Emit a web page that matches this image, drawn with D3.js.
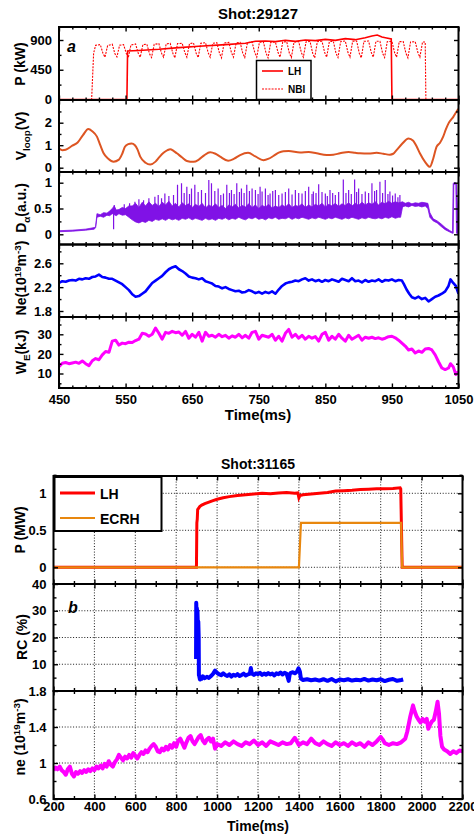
<!DOCTYPE html>
<html>
<head>
<meta charset="utf-8">
<script src="https://cdn.jsdelivr.net/npm/d3@7"></script>
<style>
  body { margin: 0; background: #fff; }
  svg { display: block; font-family: "Liberation Sans", Arial, sans-serif; font-weight: bold; }
</style>
</head>
<body>
<svg id="chart" width="474" height="837"></svg>
<script>
// ---------- shot 29127 (top figure), time in ms ----------
const lhTop = [[450,0],[552,0],[553,735],[570,742],[600,760],[630,785],[660,805],[700,830],[730,850],[745,880],
  [760,885],[775,875],[790,895],[805,880],[820,900],[835,890],[850,910],[865,895],[880,920],[895,905],
  [910,935],[920,960],[928,975],[935,945],[942,930],[949,915],[950,0],[1050,0]];

const nbi = [[450,0],[499,0],[502,700],[505,820],
  [512,830],[516,700],[519,640],[523,815],[530,835],[534,690],[537,645],[541,820],
  [547,830],[551,700],[554,630],[558,825],[565,840],[569,700],[572,640],[576,830],
  [582,835],[586,690],[589,635],[593,835],[600,845],[604,700],[607,640],[611,840],
  [617,850],[621,700],[624,630],[628,845],[635,850],[639,710],[642,640],[646,845],
  [652,855],[656,700],[659,635],[663,850],[670,860],[674,710],[677,640],[681,850],
  [687,860],[691,700],[694,630],[698,855],[705,865],[709,710],[712,640],[716,855],
  [722,865],[726,700],[729,635],[733,860],[740,870],[744,710],[747,640],[751,865],
  [757,870],[761,700],[764,630],[768,865],[775,870],[779,710],[782,640],[786,870],
  [792,875],[796,700],[799,635],[803,870],[810,875],[814,710],[817,640],[821,870],
  [827,880],[831,700],[834,630],[838,875],[845,880],[849,710],[852,640],[856,875],
  [862,880],[866,700],[869,635],[873,875],[880,885],[884,710],[887,640],[891,880],
  [897,885],[901,700],[904,630],[908,880],[915,885],[919,710],[922,640],[926,880],
  [932,880],[936,700],[939,635],[943,875],[950,880],[954,710],[957,640],[961,875],
  [967,875],[971,700],[974,630],[978,870],[985,875],[989,710],[992,640],[996,870],
  [1000,870],[1001,0],[1050,0]];

const vloop = [[450,0.86],[455,0.78],[460,0.80],[470,0.98],[478,1.12],[486,1.45],[494,1.72],[500,1.62],
  [507,1.38],[512,1.0],[517,0.64],[524,0.40],[532,0.27],[540,0.36],[545,0.62],[549,0.93],[554,1.05],
  [559,1.08],[564,1.0],[568,0.80],[572,0.49],[580,0.22],[587,0.14],[595,0.27],[601,0.48],[607,0.66],
  [613,0.78],[617,0.82],[622,0.75],[627,0.64],[635,0.45],[642,0.30],[652,0.26],[660,0.36],[668,0.55],
  [677,0.69],[685,0.62],[692,0.49],[704,0.31],[713,0.40],[722,0.56],[734,0.66],[745,0.50],[757,0.33],
  [765,0.40],[772,0.52],[780,0.67],[787,0.73],[795,0.74],[812,0.68],[825,0.70],[837,0.64],[852,0.57],
  [862,0.58],[872,0.64],[885,0.70],[895,0.66],[902,0.64],[915,0.63],[927,0.66],[937,0.62],[947,0.58],
  [952,0.62],[957,0.78],[965,1.05],[975,1.30],[982,1.20],[987,0.95],[992,0.64],[1000,0.25],[1007,0.04],
  [1012,0.40],[1017,0.93],[1022,1.10],[1027,1.38],[1031,1.70],[1035,1.97],[1042,2.25],[1048,2.54],[1050,2.62]];

// D-alpha: dense band (low/high envelope) plus individual spikes
const daT = [450,470,490,503,505,507,512,517,522,526,530,533,536,540,545,550,555,
  560,565,570,575,580,585,590,595,600,605,610,615,620,625,630,635,640,645,650,655,
  660,665,670,675,680,685,690,695,700,705,710,715,720,725,730,735,740,745,750,755,
  760,765,770,775,780,785,790,795,800,805,810,815,820,825,830,835,840,845,850,855,
  860,865,870,875,880,885,890,895,900,905,910,915,920,925,930,935,940,945,950,955,960,
  963,966,970,975,980,985,990,995,1000,1004,1007,1012,1018,1024,1030,1036,1041,1042,1043,1046,1047,1050];
const daLow = [0.05,0.06,0.08,0.10,0.13,0.33,0.35,0.33,0.37,0.36,0.40,0.38,0.36,0.40,0.37,0.38,0.33,
  0.28,0.24,0.22,0.25,0.23,0.27,0.25,0.29,0.27,0.30,0.27,0.31,0.28,0.30,0.27,0.31,0.29,0.32,0.28,0.31,
  0.29,0.27,0.31,0.28,0.30,0.27,0.31,0.29,0.32,0.28,0.31,0.29,0.33,0.30,0.28,0.32,0.30,0.33,0.29,0.31,
  0.28,0.32,0.30,0.33,0.29,0.31,0.30,0.33,0.29,0.32,0.30,0.33,0.31,0.29,0.32,0.30,0.33,0.31,0.29,0.32,
  0.30,0.33,0.31,0.29,0.32,0.30,0.33,0.31,0.29,0.32,0.30,0.33,0.31,0.30,0.32,0.30,0.33,0.31,0.34,0.31,0.33,
  0.33,0.53,0.55,0.53,0.56,0.54,0.55,0.53,0.55,0.50,0.33,0.26,0.22,0.15,0.09,0.05,0.02,0.02,0.97,0.97,0.02,0.00];
const daHigh = [0.07,0.08,0.10,0.13,0.15,0.40,0.38,0.42,0.41,0.45,0.50,0.55,0.47,0.48,0.52,0.50,0.55,
  0.55,0.60,0.52,0.62,0.55,0.63,0.56,0.60,0.54,0.62,0.57,0.64,0.55,0.60,0.53,0.61,0.56,0.59,0.52,0.58,
  0.54,0.60,0.51,0.57,0.53,0.59,0.52,0.56,0.50,0.57,0.53,0.58,0.51,0.56,0.53,0.59,0.52,0.57,0.50,0.56,
  0.53,0.58,0.51,0.55,0.52,0.57,0.53,0.59,0.52,0.56,0.54,0.59,0.52,0.57,0.53,0.58,0.55,0.60,0.53,0.58,
  0.55,0.60,0.54,0.59,0.56,0.61,0.55,0.60,0.56,0.62,0.57,0.61,0.58,0.63,0.57,0.62,0.59,0.64,0.60,0.63,0.61,
  0.62,0.63,0.60,0.62,0.59,0.61,0.60,0.62,0.61,0.60,0.42,0.30,0.26,0.20,0.13,0.08,0.04,0.98,1.00,1.00,0.98,0.03];
const daSpikes = [[532,0.10],[533,0.57],[548,0.58],[556,0.60],[564,0.63],[570,0.68],[577,0.66],[585,0.70],
  [594,0.73],[599,0.76],[604,0.70],[609,0.79],[615,0.74],[622,0.76],[628,0.96],[634,0.99],[638,0.80],
  [642,0.92],[646,0.78],[649,0.89],[654,0.96],[659,0.82],[664,0.86],[670,0.80],[675,1.05],[679,0.99],
  [684,0.84],[689,0.89],[693,0.76],[697,0.79],[702,0.96],[706,0.80],[709,0.86],[713,0.78],[717,0.99],
  [721,0.82],[724,0.89],[728,0.80],[732,0.96],[736,0.84],[740,0.89],[745,0.86],[749,0.78],[752,0.92],
  [755,0.83],[760,0.89],[764,0.76],[767,0.79],[771,0.84],[775,0.86],[780,0.76],[785,0.79],[790,0.82],
  [795,0.89],[800,0.77],[805,0.86],[810,0.80],[815,0.79],[820,0.84],[825,0.92],[830,0.78],[832,0.83],
  [836,0.80],[840,0.97],[845,0.82],[850,0.79],[853,0.74],[857,0.86],[861,0.80],[865,0.76],[870,0.82],
  [877,1.06],[881,0.80],[885,0.86],[889,0.78],[894,1.06],[897,0.82],[900,0.89],[905,0.78],[910,0.83],
  [915,0.80],[920,0.99],[924,0.84],[927,0.86],[932,1.02],[936,0.80],[940,1.05],[944,0.78],[947,0.83],
  [951,0.75],[955,0.79],[959,0.72],[962,0.76]];

const neTop = [[450,2.27],[455,2.30],[460,2.29],[465,2.31],[470,2.32],[475,2.31],[480,2.34],[485,2.33],
  [490,2.35],[495,2.34],[500,2.37],[505,2.38],[510,2.41],[515,2.37],[520,2.36],[525,2.34],[530,2.34],
  [535,2.31],[540,2.28],[545,2.25],[550,2.20],[555,2.15],[560,2.08],[565,2.04],[570,2.05],[575,2.09],
  [580,2.13],[585,2.20],[590,2.27],[595,2.31],[600,2.35],[605,2.39],[610,2.45],[615,2.50],[620,2.53],
  [625,2.55],[630,2.50],[635,2.47],[640,2.43],[645,2.38],[650,2.36],[655,2.35],[660,2.33],[665,2.35],
  [670,2.30],[675,2.28],[680,2.26],[685,2.22],[690,2.21],[695,2.18],[700,2.20],[705,2.17],[710,2.15],
  [715,2.13],[720,2.14],[725,2.11],[730,2.12],[735,2.15],[740,2.13],[745,2.10],[750,2.12],[755,2.09],
  [760,2.12],[765,2.10],[770,2.13],[775,2.09],[780,2.16],[785,2.22],[790,2.26],[795,2.28],[800,2.29],
  [805,2.31],[810,2.30],[815,2.33],[820,2.35],[825,2.31],[830,2.33],[835,2.30],[840,2.32],[845,2.29],
  [850,2.32],[855,2.30],[860,2.33],[865,2.31],[870,2.29],[875,2.34],[880,2.32],[885,2.30],[890,2.35],
  [895,2.30],[900,2.31],[905,2.28],[910,2.32],[915,2.29],[920,2.31],[925,2.30],[930,2.33],[935,2.29],
  [940,2.32],[945,2.31],[950,2.33],[955,2.30],[960,2.32],[965,2.31],[968,2.25],[972,2.16],[976,2.09],
  [980,2.03],[985,2.01],[990,2.04],[995,2.00],[1000,2.02],[1005,1.96],[1010,2.00],[1015,2.04],[1020,2.06],
  [1025,2.09],[1030,2.13],[1035,2.22],[1038,2.33],[1042,2.27],[1046,2.22],[1050,2.09]];

const we = [[450,13.5],[455,15.2],[460,15.6],[465,15.0],[470,15.4],[475,15.8],[480,15.2],[485,16.4],
  [490,15.0],[495,14.0],[500,16.5],[505,17.6],[510,17.0],[515,19.5],[520,21.2],[525,20.8],[530,26.5],
  [535,27.0],[540,24.5],[545,25.5],[550,25.2],[555,26.0],[560,25.8],[565,26.8],[570,27.5],[575,30.5],
  [580,30.2],[585,29.0],[590,30.0],[595,33.2],[600,30.5],[605,27.5],[610,31.0],[615,30.5],[620,31.5],
  [625,30.8],[630,31.2],[635,29.5],[640,31.5],[645,28.0],[650,30.0],[655,28.5],[660,31.0],[665,26.5],
  [670,31.0],[675,29.0],[680,29.5],[685,28.5],[690,30.0],[695,28.8],[700,29.5],[705,28.0],[710,29.2],
  [715,28.5],[720,30.0],[725,28.2],[730,29.5],[735,28.0],[740,31.0],[745,31.5],[750,27.5],[755,29.5],
  [760,29.0],[765,28.5],[770,30.0],[775,27.0],[780,29.0],[785,26.5],[790,30.5],[795,32.5],[800,28.5],
  [805,30.0],[810,28.0],[815,29.5],[820,27.5],[825,29.0],[830,28.0],[835,28.8],[840,26.5],[845,30.0],
  [850,31.0],[855,27.0],[860,29.0],[865,27.5],[870,30.0],[875,28.0],[880,26.5],[885,29.5],[890,27.5],
  [895,28.5],[900,29.5],[905,27.0],[910,28.5],[915,28.0],[920,28.5],[925,27.8],[930,28.2],[935,27.5],
  [940,28.0],[945,28.8],[950,29.0],[955,28.2],[960,27.0],[965,25.5],[970,24.0],[975,22.0],[980,22.5],
  [985,20.5],[990,21.5],[995,20.8],[1000,22.5],[1005,22.8],[1010,22.0],[1015,19.5],[1020,16.0],[1025,12.8],
  [1030,12.0],[1035,12.8],[1038,15.0],[1042,13.5],[1046,9.5],[1050,11.0]];

// ---------- shot 31165 (bottom figure) ----------
const lhBot = [[200,0],[899,0],[900,0.3],[901,0.6],[903,0.65],[905,0.78],[910,0.80],[915,0.82],[925,0.84],
  [940,0.86],[960,0.88],[980,0.90],[1000,0.92],[1030,0.94],[1060,0.955],[1100,0.97],[1140,0.98],[1180,0.99],
  [1220,1.0],[1260,0.995],[1300,1.005],[1340,1.01],[1380,1.0],[1395,1.005],[1400,0.94],[1405,0.97],
  [1420,0.98],[1460,0.99],[1500,1.0],[1540,1.01],[1580,1.03],[1620,1.035],[1660,1.04],[1700,1.05],
  [1740,1.055],[1780,1.06],[1820,1.06],[1860,1.065],[1895,1.075],[1898,1.06],[1905,0],[2200,0]];
const ecrh = [[200,0],[1400,0],[1410,0.6],[1900,0.6],[1905,0],[2200,0]];

const rc = [[897,12],[898,33],[899,30],[900,13],[901,31],[902,28],[903,14],[904,30],[906,24],[908,26],
  [910,20],[911,6],[913,5.5],[916,4.3],[920,5.2],[925,4.6],[930,5.5],[940,4.8],[950,5.3],[960,4.9],
  [970,5.6],[980,6.4],[990,7.6],[1000,6.8],[1010,6.2],[1020,5.9],[1030,6.6],[1040,6.0],[1050,5.6],
  [1060,6.2],[1070,5.4],[1080,6.1],[1090,5.7],[1100,6.3],[1110,5.6],[1120,6.0],[1130,6.5],[1140,5.8],
  [1150,6.2],[1160,6.4],[1165,8.6],[1170,6.5],[1180,6.0],[1190,6.6],[1200,6.3],[1210,6.8],[1220,6.0],
  [1230,6.5],[1240,6.1],[1250,6.7],[1260,6.2],[1270,6.5],[1280,5.8],[1290,6.6],[1300,6.3],[1310,6.9],
  [1320,6.2],[1330,6.8],[1340,6.4],[1345,5.2],[1350,3.8],[1355,6.2],[1360,6.8],[1370,7.0],[1380,6.6],
  [1390,7.2],[1398,8.5],[1402,7.8],[1405,7.2],[1410,4.6],[1420,4.1],[1440,4.4],[1460,4.0],[1480,4.3],
  [1500,3.9],[1520,4.4],[1540,3.8],[1560,4.5],[1580,3.6],[1600,4.3],[1620,4.0],[1640,4.4],[1660,3.9],
  [1680,4.2],[1700,4.0],[1720,4.5],[1740,3.9],[1760,4.3],[1780,4.0],[1800,4.4],[1820,3.7],[1840,4.2],
  [1860,4.5],[1880,3.8],[1900,4.1],[1910,4.3]];

const neBot = [[200,0.92],[210,0.95],[220,0.93],[230,0.96],[240,0.92],[250,0.90],[260,0.87],[270,0.93],
  [280,0.96],[290,0.88],[300,0.85],[310,0.90],[320,0.88],[330,0.91],[340,0.89],[350,0.92],[360,0.90],
  [370,0.93],[380,0.91],[390,0.94],[400,0.92],[410,0.96],[420,0.94],[430,0.97],[440,0.94],[450,0.99],
  [460,0.96],[470,1.02],[480,0.98],[490,0.96],[500,1.01],[510,1.04],[520,1.09],[530,1.06],[540,1.03],
  [550,1.07],[560,1.05],[570,1.09],[580,1.06],[590,1.11],[600,1.08],[610,1.05],[620,1.09],[630,1.12],
  [640,1.10],[650,1.14],[660,1.12],[670,1.16],[680,1.19],[690,1.21],[700,1.18],[710,1.13],[720,1.12],
  [730,1.16],[740,1.14],[750,1.18],[760,1.15],[770,1.20],[780,1.17],[790,1.22],[800,1.18],[810,1.25],
  [820,1.27],[830,1.22],[840,1.17],[850,1.23],[860,1.28],[870,1.30],[880,1.24],[890,1.21],[900,1.25],
  [910,1.29],[920,1.31],[930,1.25],[940,1.22],[950,1.26],[960,1.28],[970,1.24],[980,1.27],[990,1.16],
  [1000,1.21],[1020,1.19],[1040,1.23],[1060,1.20],[1080,1.24],[1100,1.21],[1120,1.19],[1140,1.23],
  [1160,1.21],[1180,1.25],[1200,1.20],[1220,1.23],[1240,1.19],[1260,1.24],[1280,1.22],[1300,1.20],
  [1320,1.23],[1340,1.21],[1360,1.22],[1380,1.28],[1400,1.20],[1420,1.23],[1440,1.21],[1460,1.27],
  [1480,1.22],[1500,1.20],[1520,1.24],[1540,1.21],[1560,1.19],[1580,1.23],[1600,1.20],[1620,1.22],
  [1640,1.19],[1660,1.23],[1680,1.20],[1700,1.22],[1720,1.18],[1740,1.23],[1760,1.20],[1780,1.24],
  [1800,1.29],[1810,1.26],[1820,1.22],[1840,1.20],[1860,1.22],[1880,1.21],[1900,1.23],[1920,1.27],
  [1930,1.35],[1945,1.52],[1958,1.64],[1965,1.58],[1975,1.52],[1985,1.48],[1995,1.45],[2005,1.49],
  [2015,1.46],[2025,1.49],[2033,1.38],[2040,1.42],[2050,1.46],[2060,1.48],[2070,1.58],[2078,1.68],
  [2085,1.55],[2092,1.30],[2100,1.18],[2110,1.15],[2125,1.13],[2140,1.10],[2155,1.13],[2170,1.11],
  [2185,1.14],[2200,1.13]];

// ---------- drawing ----------
const svg = d3.select('#chart');
svg.append('rect').attr('width', 474).attr('height', 837).attr('fill', '#fff');

const lineGen = (x, y) => d3.line().x(d => x(d[0])).y(d => y(d[1]));

function tickAxis(g, axisFn, scale, values, size, tr, fmt, pad, fs) {
  const a = g.append('g').attr('transform', tr)
    .call(axisFn(scale).tickValues(values).tickSizeInner(size).tickSizeOuter(0)
      .tickPadding(pad || 3).tickFormat(fmt || (() => '')));
  a.select('.domain').remove();
  a.attr('font-family', null).attr('font-size', fs || 13);
  a.selectAll('line').attr('stroke-width', 1.4);
  return a;
}

function drawPanel(fig, p) {
  const x = fig.x, [x0, x1] = x.range();
  const y = d3.scaleLinear().domain(p.dom).range(p.rng);
  const g = svg.append('g');
  if (fig.gridX) {
    g.selectAll(null).data(fig.gridX).enter().append('line')
      .attr('x1', d => x(d)).attr('x2', d => x(d)).attr('y1', p.top).attr('y2', p.bottom)
      .attr('stroke', '#000').attr('stroke-width', 0.9).attr('stroke-dasharray', '1,1.8');
  }
  if (p.gridY) {
    g.selectAll(null).data(p.gridY).enter().append('line')
      .attr('x1', x0).attr('x2', x1).attr('y1', d => y(d)).attr('y2', d => y(d))
      .attr('stroke', '#000').attr('stroke-width', 0.9).attr('stroke-dasharray', '1,1.8');
  }
  const clipId = 'clip-' + p.name;
  svg.append('clipPath').attr('id', clipId).append('rect')
    .attr('x', x0).attr('y', p.top).attr('width', x1 - x0).attr('height', p.bottom - p.top);
  const plot = g.append('g').attr('clip-path', `url(#${clipId})`);
  p.draw(plot, x, y);

  // inward ticks on all four sides
  tickAxis(g, d3.axisBottom, x, fig.xMajor, -fig.tick, `translate(0,${p.bottom})`,
    p.xLabels ? (d => String(d)) : null, fig.xPad, fig.xFont);
  tickAxis(g, d3.axisBottom, x, fig.xMinor, -fig.minor, `translate(0,${p.bottom})`);
  tickAxis(g, d3.axisTop, x, fig.xMajor, -fig.tick, `translate(0,${p.top})`);
  tickAxis(g, d3.axisTop, x, fig.xMinor, -fig.minor, `translate(0,${p.top})`);
  tickAxis(g, d3.axisLeft, y, p.yTicks, -fig.tick, `translate(${x0},0)`, d => String(d), 7, fig.yFont);
  tickAxis(g, d3.axisRight, y, p.yTicks, -fig.tick, `translate(${x1},0)`);
  if (p.yMinor) {
    tickAxis(g, d3.axisLeft, y, p.yMinor, -fig.minor, `translate(${x0},0)`);
    tickAxis(g, d3.axisRight, y, p.yMinor, -fig.minor, `translate(${x1},0)`);
  }
  g.append('rect').attr('x', x0).attr('y', p.top).attr('width', x1 - x0).attr('height', p.bottom - p.top)
    .attr('fill', 'none').attr('stroke', '#000').attr('stroke-width', 2);
  return { g, x, y };
}

function yTitle(x, cy, parts, fs) {
  const t = svg.append('text').attr('transform', `translate(${x},${cy}) rotate(-90)`)
    .attr('text-anchor', 'middle').attr('font-size', fs);
  let prev = 0;
  parts.forEach(([s, shift]) => {
    t.append('tspan').text(s).attr('dy', shift - prev)
      .attr('font-size', shift === 0 ? fs : fs * 0.7);
    prev = shift;
  });
}

// ----- top figure -----
const xTop = d3.scaleLinear().domain([450, 1050]).range([59, 458.5]);
const figTop = {
  x: xTop, tick: 4.5, minor: 2.5, xPad: 7, xFont: 13, yFont: 13,
  xMajor: d3.range(450, 1051, 100),
  xMinor: d3.range(450, 1051, 20).filter(d => (d - 450) % 100 !== 0)
};

drawPanel(figTop, {
  name: 'p1', top: 27, bottom: 100, dom: [0, 900], rng: [99.5, 40],
  yTicks: [0, 450, 900], yMinor: [225, 675],
  draw: (g, x, y) => {
    g.append('path').datum(nbi).attr('d', lineGen(x, y)).attr('fill', 'none')
      .attr('stroke', '#ff0000').attr('stroke-width', 1.1).attr('stroke-dasharray', '2,1.2');
    g.append('path').datum(lhTop).attr('d', lineGen(x, y)).attr('fill', 'none')
      .attr('stroke', '#ff0000').attr('stroke-width', 1.6);
  }
});
drawPanel(figTop, {
  name: 'p2', top: 100, bottom: 172, dom: [0, 2], rng: [167.7, 122.7],
  yTicks: [0, 1, 2], yMinor: [0.5, 1.5, 2.5],
  draw: (g, x, y) => {
    g.append('path').datum(vloop).attr('d', lineGen(x, y).curve(d3.curveMonotoneX)).attr('fill', 'none')
      .attr('stroke', '#dd5522').attr('stroke-width', 2);
  }
});
drawPanel(figTop, {
  name: 'p3', top: 172, bottom: 244.5, dom: [0, 1], rng: [234.3, 182.7],
  yTicks: [0, 0.5, 1], yMinor: [0.25, 0.75],
  draw: (g, x, y) => {
    const band = daT.map((t, i) => [t, daLow[i], daHigh[i]]);
    g.append('path').datum(band)
      .attr('d', d3.area().x(d => x(d[0])).y0(d => y(d[1])).y1(d => y(d[2])))
      .attr('fill', '#8012e6').attr('stroke', '#8012e6').attr('stroke-width', 0.8);
    g.selectAll(null).data(daSpikes).enter().append('line')
      .attr('x1', d => x(d[0])).attr('x2', d => x(d[0]))
      .attr('y1', y(0.45)).attr('y2', d => y(d[1]))
      .attr('stroke', '#8012e6').attr('stroke-width', 1.2);
  }
});
drawPanel(figTop, {
  name: 'p4', top: 244.5, bottom: 317, dom: [1.8, 2.6], rng: [311, 263.3],
  yTicks: [1.8, 2.2, 2.6], yMinor: [2.0, 2.4, 2.8],
  draw: (g, x, y) => {
    g.append('path').datum(neTop).attr('d', lineGen(x, y)).attr('fill', 'none')
      .attr('stroke', '#0000ff').attr('stroke-width', 2.6).attr('stroke-linejoin', 'round');
  }
});
drawPanel(figTop, {
  name: 'p5', top: 317, bottom: 388, dom: [10, 30], rng: [373.5, 334.3], xLabels: true,
  yTicks: [10, 20, 30], yMinor: [5, 15, 25, 35],
  draw: (g, x, y) => {
    g.append('path').datum(we).attr('d', lineGen(x, y)).attr('fill', 'none')
      .attr('stroke', '#ff00ff').attr('stroke-width', 3).attr('stroke-linejoin', 'round');
  }
});

svg.append('text').attr('x', 258).attr('y', 19).attr('text-anchor', 'middle')
  .attr('font-size', 15).text('Shot:29127');
svg.append('text').attr('x', 258).attr('y', 420).attr('text-anchor', 'middle')
  .attr('font-size', 15).text('Time(ms)');
svg.append('text').attr('x', 67).attr('y', 52).attr('font-size', 16).attr('font-style', 'italic').text('a');

yTitle(25, 64, [['P (kW)', 0]], 14);
yTitle(26, 136, [['V', 0], ['loop', 4], ['(V)', 0]], 14);
yTitle(26, 208, [['D', 0], ['α', 4], ['(a.u.)', 0]], 14);
yTitle(26, 278, [['Ne(10', 0], ['19', -5], ['m', 0], ['-3', -5], [')', 0]], 14);
yTitle(26, 352, [['W', 0], ['E', 4], ['(kJ)', 0]], 14);

// top legend
const legTop = svg.append('g');
legTop.append('rect').attr('x', 256.5).attr('y', 60.5).attr('width', 54.5).attr('height', 39)
  .attr('fill', '#fff').attr('stroke', '#000').attr('stroke-width', 1.5);
legTop.append('line').attr('x1', 262).attr('x2', 283).attr('y1', 71).attr('y2', 71)
  .attr('stroke', '#ff0000').attr('stroke-width', 1.6);
legTop.append('line').attr('x1', 262).attr('x2', 283).attr('y1', 89).attr('y2', 89)
  .attr('stroke', '#ff0000').attr('stroke-width', 1.1).attr('stroke-dasharray', '2,1.2');
legTop.append('text').attr('x', 288).attr('y', 75).attr('font-size', 10).text('LH');
legTop.append('text').attr('x', 288).attr('y', 93).attr('font-size', 10).text('NBI');

// ----- bottom figure -----
const xBot = d3.scaleLinear().domain([200, 2200]).range([53.5, 462.5]);
const figBot = {
  x: xBot, tick: 4.5, minor: 3, xPad: 3, xFont: 13, yFont: 13,
  xMajor: d3.range(200, 2201, 200),
  xMinor: d3.range(300, 2200, 200),
  gridX: d3.range(400, 2200, 200)
};

drawPanel(figBot, {
  name: 'q1', top: 476, bottom: 584, dom: [0, 1], rng: [567.3, 493.3],
  yTicks: [0, 0.5, 1], yMinor: [0.25, 0.75, 1.25], gridY: [0, 0.5, 1],
  draw: (g, x, y) => {
    g.append('path').datum(lhBot).attr('d', lineGen(x, y)).attr('fill', 'none')
      .attr('stroke', '#ff0000').attr('stroke-width', 3);
    g.append('path').datum(ecrh).attr('d', lineGen(x, y)).attr('fill', 'none')
      .attr('stroke', '#e8870e').attr('stroke-width', 2.2);
  }
});
drawPanel(figBot, {
  name: 'q2', top: 584, bottom: 691, dom: [0, 40], rng: [691, 584],
  yTicks: [10, 20, 30, 40], yMinor: [5, 15, 25, 35], gridY: [10, 20, 30],
  draw: (g, x, y) => {
    g.append('path').datum(rc).attr('d', lineGen(x, y)).attr('fill', 'none')
      .attr('stroke', '#0000ff').attr('stroke-width', 4).attr('stroke-linejoin', 'round');
  }
});
drawPanel(figBot, {
  name: 'q3', top: 691, bottom: 799, dom: [0.6, 1.8], rng: [799, 691], xLabels: true,
  yTicks: [0.6, 1, 1.4, 1.8], yMinor: [0.8, 1.2, 1.6], gridY: [1, 1.4],
  draw: (g, x, y) => {
    g.append('path').datum(neBot).attr('d', lineGen(x, y)).attr('fill', 'none')
      .attr('stroke', '#ff00ff').attr('stroke-width', 4).attr('stroke-linejoin', 'round');
  }
});

svg.append('text').attr('x', 258).attr('y', 831).attr('text-anchor', 'middle')
  .attr('font-size', 14).text('Time(ms)');
svg.append('text').attr('x', 258).attr('y', 469).attr('text-anchor', 'middle')
  .attr('font-size', 14).text('Shot:31165');
svg.append('text').attr('x', 68).attr('y', 613).attr('font-size', 16).attr('font-style', 'italic').text('b');

yTitle(25, 530, [['P (MW)', 0]], 14);
yTitle(27, 637, [['RC (%)', 0]], 14);
yTitle(25, 737, [['ne (10', 0], ['19', -5], ['m', 0], ['-3', -5], [')', 0]], 14);

// bottom legend
const legBot = svg.append('g');
legBot.append('rect').attr('x', 54.5).attr('y', 477).attr('width', 107).attr('height', 54)
  .attr('fill', '#fff').attr('stroke', '#000').attr('stroke-width', 2);
legBot.append('line').attr('x1', 60).attr('x2', 95).attr('y1', 493).attr('y2', 493)
  .attr('stroke', '#ff0000').attr('stroke-width', 3);
legBot.append('line').attr('x1', 60).attr('x2', 95).attr('y1', 518).attr('y2', 518)
  .attr('stroke', '#e8870e').attr('stroke-width', 2.2);
legBot.append('text').attr('x', 100).attr('y', 499).attr('font-size', 14).text('LH');
legBot.append('text').attr('x', 100).attr('y', 524).attr('font-size', 14).text('ECRH');
</script>
</body>
</html>
